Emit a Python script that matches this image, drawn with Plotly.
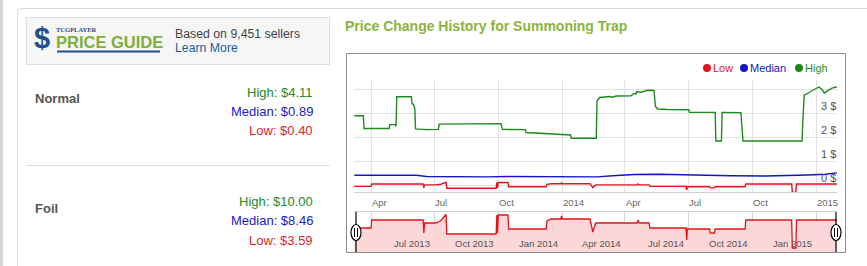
import plotly.graph_objects as go

W, H = 867, 266


def px(x):
    return x / W


def py(y):
    return 1 - y / H


FONT = "Liberation Sans, Arial, sans-serif"

# ---------------- data ----------------
high_dates = ['2013-03-08', '2013-03-21', '2013-03-22', '2013-04-27', '2013-04-28', '2013-05-06', '2013-05-07',
              '2013-05-08', '2013-05-29', '2013-05-30', '2013-06-01', '2013-06-02', '2013-06-03', '2013-06-04',
              '2013-06-20', '2013-07-07', '2013-07-08', '2013-08-20', '2013-10-05', '2013-10-07', '2013-11-09',
              '2013-11-10', '2013-12-20', '2014-01-13', '2014-01-14', '2014-02-19', '2014-02-20', '2014-02-24',
              '2014-03-10', '2014-03-14', '2014-03-20', '2014-04-10', '2014-04-14', '2014-04-17', '2014-04-18',
              '2014-04-24', '2014-05-04', '2014-05-13', '2014-05-15', '2014-05-18', '2014-06-01', '2014-07-02',
              '2014-07-03', '2014-08-09', '2014-08-10', '2014-08-18', '2014-08-19', '2014-09-15', '2014-09-18',
              '2014-12-12', '2014-12-13', '2014-12-15', '2014-12-24', '2014-12-31', '2015-01-05', '2015-01-09',
              '2015-01-13', '2015-01-18', '2015-01-24', '2015-01-31']
high_values = [2.90, 2.90, 2.37, 2.37, 2.53, 2.53, 2.45,
               3.69, 3.69, 3.40, 3.38, 3.27, 3.20, 2.35,
               2.32, 2.33, 2.55, 2.56, 2.57, 2.33, 2.32,
               2.20, 2.12, 2.10, 1.96, 1.96, 3.52, 3.66,
               3.70, 3.67, 3.72, 3.73, 3.83, 3.80, 3.90,
               3.88, 3.96, 3.95, 3.30, 3.18, 3.16, 3.15,
               3.04, 3.04, 1.85, 1.85, 3.04, 3.03, 1.85,
               1.85, 2.65, 3.76, 3.90, 4.02, 4.10, 4.02,
               3.85, 3.95, 4.05, 4.11]

median_dates = ['2013-03-08', '2013-06-05', '2013-06-20', '2013-07-20', '2013-08-20', '2013-09-15', '2013-10-15',
                '2013-11-20', '2013-12-20', '2014-01-25', '2014-02-20', '2014-03-20', '2014-04-15', '2014-05-20',
                '2014-06-20', '2014-07-15', '2014-09-01', '2014-10-20', '2014-11-20', '2014-12-20', '2015-01-15',
                '2015-01-31']
median_values = [0.42, 0.42, 0.37, 0.36, 0.37, 0.35, 0.37,
                 0.36, 0.34, 0.33, 0.35, 0.41, 0.45, 0.46,
                 0.44, 0.40, 0.40, 0.39, 0.40, 0.43, 0.46,
                 0.52]

low_dates = ['2013-03-08', '2013-04-01', '2013-04-02', '2013-06-15', '2013-06-16', '2013-06-17', '2013-07-03',
             '2013-07-10', '2013-07-17', '2013-07-18', '2013-07-19', '2013-09-28', '2013-09-29', '2013-09-30',
             '2013-10-01', '2013-10-15', '2013-10-16', '2013-12-09', '2013-12-10', '2013-12-16', '2013-12-30',
             '2013-12-31', '2014-01-01', '2014-02-10', '2014-02-14', '2014-02-18', '2014-04-19', '2014-04-20',
             '2014-04-22', '2014-05-06', '2014-05-07', '2014-06-28', '2014-06-29', '2014-06-30', '2014-08-01',
             '2014-08-02', '2014-08-08', '2014-08-09', '2014-09-21', '2014-09-22', '2014-11-27', '2014-11-28',
             '2014-12-03', '2014-12-04', '2015-01-31']
low_values = [0.32, 0.32, 0.40, 0.40, 0.27, 0.37, 0.37,
              0.39, 0.45, 0.45, 0.26, 0.26, 0.45, 0.27,
              0.45, 0.45, 0.31, 0.31, 0.39, 0.41, 0.41,
              0.44, 0.41, 0.41, 0.28, 0.37, 0.37, 0.40,
              0.37, 0.37, 0.32, 0.32, 0.20, 0.31, 0.31,
              0.27, 0.27, 0.31, 0.31, 0.40, 0.40, 0.12,
              0.12, 0.40, 0.40]

series_names = ['Low', 'Median', 'High']
series_colors = ['#e3141c', '#1414c8', '#1e8a1e']

main_tick_dates = ['2013-04-01', '2013-07-01', '2013-10-01', '2014-01-01',
                   '2014-04-01', '2014-07-01', '2014-10-01', '2015-01-01']
main_tick_text = ['Apr', 'Jul', 'Oct', '2014', 'Apr', 'Jul', 'Oct', '2015']
nav_tick_text = ['', 'Jul 2013', 'Oct 2013', 'Jan 2014', 'Apr 2014', 'Jul 2014', 'Oct 2014', 'Jan 2015']
y_tick_values = [0, 1, 2, 3, 4]
y_tick_text = ['0 $', '1 $', '2 $', '3 $', '']

card_title = 'Price Change History for Summoning Trap'
sellers_text = 'Based on 9,451 sellers'
learn_text = 'Learn More'
printings = ['Normal', 'Foil']
price_labels = ['High', 'Median', 'Low']
price_values = {'Normal': ['$4.11', '$0.89', '$0.40'], 'Foil': ['$10.00', '$8.46', '$3.59']}
price_colors = ['#23892a', '#2020c8', '#e01f2a']

x_range = ['2013-03-07 13:00', '2015-01-31 05:00']

# ---------------- figure ----------------
fig = go.Figure()

# range selector (navigator) - low series, filled
fig.add_trace(go.Scatter(x=low_dates, y=low_values, xaxis='x2', yaxis='y2', mode='lines',
                         line=dict(color='#e3141c', width=1.3), fill='tozeroy',
                         fillcolor='rgba(252,215,215,1)', hoverinfo='skip'))

# main chart
fig.add_trace(go.Scatter(x=median_dates, y=median_values, xaxis='x', yaxis='y', mode='lines',
                         line=dict(color=series_colors[1], width=1.4), name='Median'))
fig.add_trace(go.Scatter(x=high_dates, y=high_values, xaxis='x', yaxis='y', mode='lines',
                         line=dict(color=series_colors[2], width=1.4), name='High'))
fig.add_trace(go.Scatter(x=low_dates, y=low_values, xaxis='x', yaxis='y3', mode='lines',
                         line=dict(color=series_colors[0], width=1.4), name='Low'))

annotations = []


def ann(text, x, y, size, color, xanchor='left', yanchor='middle', bold=False, xref='paper', yref='paper', **kw):
    d = dict(text=text, x=x, y=y, xref=xref, yref=yref, xanchor=xanchor, yanchor=yanchor,
             showarrow=False, borderpad=0, borderwidth=0,
             font=dict(family=FONT, size=size, color=color, weight='bold' if bold else 'normal'))
    d.update(kw)
    annotations.append(d)


# left panel
ann('$', px(34), py(38), 29, '#1f4f8d', bold=True)
ann('TCGPLAYER', px(56), py(30), 6.5, '#1f4f8d', bold=True,
    font_family='Liberation Serif, Times New Roman, serif')
ann('PRICE GUIDE', px(56), py(42), 16.5, '#7eae3c', bold=True)
ann(sellers_text, px(175), py(34), 12.3, '#444444')
ann(learn_text, px(175), py(48), 12.3, '#1f5c99')

for i, name in enumerate(printings):
    base = 92 if i == 0 else 201
    lab_y = 99 if i == 0 else 208
    ann(name, px(35), py(lab_y), 13, '#555555', bold=True)
    for j, lab in enumerate(price_labels):
        ann(f'{lab}: {price_values[name][j]}', px(313), py(base + j * 19.5), 13, price_colors[j], xanchor='right')

# chart title
ann(card_title, px(345), py(26), 14, '#8bb43e', bold=True)

# legend
legend_x = [707, 744, 799]
for name, col, lx in zip(series_names, series_colors, legend_x):
    ann(name, px(lx + 6), py(68), 11, col)

# y tick labels (drawn above their grid lines, inside the plot)
for v, t in zip(y_tick_values, y_tick_text):
    if t:
        ann(t, px(836), v, 11, '#555555', xanchor='right', yanchor='bottom', yref='y', yshift=1)

# main x tick labels (left aligned at the grid line)
for d, t in zip(main_tick_dates, main_tick_text):
    ann(t, d, py(202), 9.5, '#666666', xanchor='left', xref='x', xshift=1)

# navigator labels (right aligned at the grid line)
for d, t in zip(main_tick_dates, nav_tick_text):
    if t:
        ann(t, d, py(243), 9.5, '#555555', xanchor='right', xref='x2', xshift=-4)

shapes = []
# gray strip left
shapes.append(dict(type='rect', xref='paper', yref='paper', x0=0, x1=px(3), y0=0, y1=1,
                   fillcolor='#d6d6d6', line=dict(width=0), layer='below'))
# panel border with rounded corner
shapes.append(dict(type='path', xref='paper', yref='paper',
                   path=f'M {px(17.5)},{py(266)} L {px(17.5)},{py(12.5)} Q {px(17.5)},{py(8.5)} {px(21.5)},{py(8.5)} '
                        f'L {px(867)},{py(8.5)}',
                   line=dict(color='#d9d9d9', width=1)))
# price guide box
shapes.append(dict(type='rect', xref='paper', yref='paper', x0=px(26.5), x1=px(329.5), y0=py(64.5), y1=py(17.5),
                   fillcolor='#f6f6f6', line=dict(color='#dedede', width=1), layer='below'))
# underline of logo
shapes.append(dict(type='rect', xref='paper', yref='paper', x0=px(57), x1=px(160), y0=py(52.5), y1=py(50.5),
                   fillcolor='#1f4f8d', line=dict(width=0)))
# divider
shapes.append(dict(type='line', xref='paper', yref='paper', x0=px(26), x1=px(330), y0=py(165.5), y1=py(165.5),
                   line=dict(color='#dddddd', width=1)))
# chart box
shapes.append(dict(type='rect', xref='paper', yref='paper', x0=px(346.5), x1=px(845.5), y0=py(252.5), y1=py(53.5),
                   line=dict(color='#8e8e8e', width=1)))
# legend dots
for col, lx in zip(series_colors, legend_x):
    shapes.append(dict(type='circle', xref='paper', yref='paper', x0=px(lx - 4), x1=px(lx + 4),
                       y0=py(72), y1=py(64), fillcolor=col, line=dict(width=0)))
# navigator handles (range selector grips at both ends of the selected window)
for hx in (356, 836):
    shapes.append(dict(type='line', xref='paper', yref='paper', x0=px(hx), x1=px(hx),
                       y0=py(252), y1=py(212), line=dict(color='#000000', width=1.2)))
    shapes.append(dict(type='circle', xref='paper', yref='paper', x0=px(hx - 5), x1=px(hx + 5),
                       y0=py(240.5), y1=py(224.5), fillcolor='#ffffff', line=dict(color='#000000', width=1.2)))
    for off in (-1.5, 1.5):
        shapes.append(dict(type='line', xref='paper', yref='paper', x0=px(hx + off), x1=px(hx + off),
                           y0=py(237), y1=py(228), line=dict(color='#000000', width=1)))

fig.update_layout(
    width=W, height=H, margin=dict(l=0, r=0, t=0, b=0),
    paper_bgcolor='white', plot_bgcolor='white', showlegend=False,
    font=dict(family=FONT),
    xaxis=dict(domain=[px(354), px(837)], range=x_range, type='date', anchor='y',
               tickvals=main_tick_dates, showticklabels=False, ticks='',
               showgrid=True, gridcolor='#e2e2e2', gridwidth=1, zeroline=False,
               showline=True, linecolor='#cfcfcf', linewidth=1),
    yaxis=dict(domain=[py(192), py(80)], range=[-0.279, 4.39], anchor='x',
               tickvals=y_tick_values, showticklabels=False, ticks='',
               showgrid=True, gridcolor='#e2e2e2', gridwidth=1, zeroline=False),
    yaxis3=dict(overlaying='y', range=[0.133, 3.867], visible=False, showgrid=False),
    xaxis2=dict(domain=[px(354), px(837)], range=x_range, type='date', anchor='y2',
                tickvals=main_tick_dates, showticklabels=False, ticks='',
                showgrid=True, gridcolor='#d6d6d6', zeroline=False,
                showline=True, mirror=True, linecolor='#d0d0d0', linewidth=1),
    yaxis2=dict(domain=[py(252), py(212)], range=[0.08, 0.48], anchor='x2',
                showgrid=False, showticklabels=False, zeroline=False, ticks=''),
    annotations=annotations, shapes=shapes,
)

fig.write_html('out.html')
